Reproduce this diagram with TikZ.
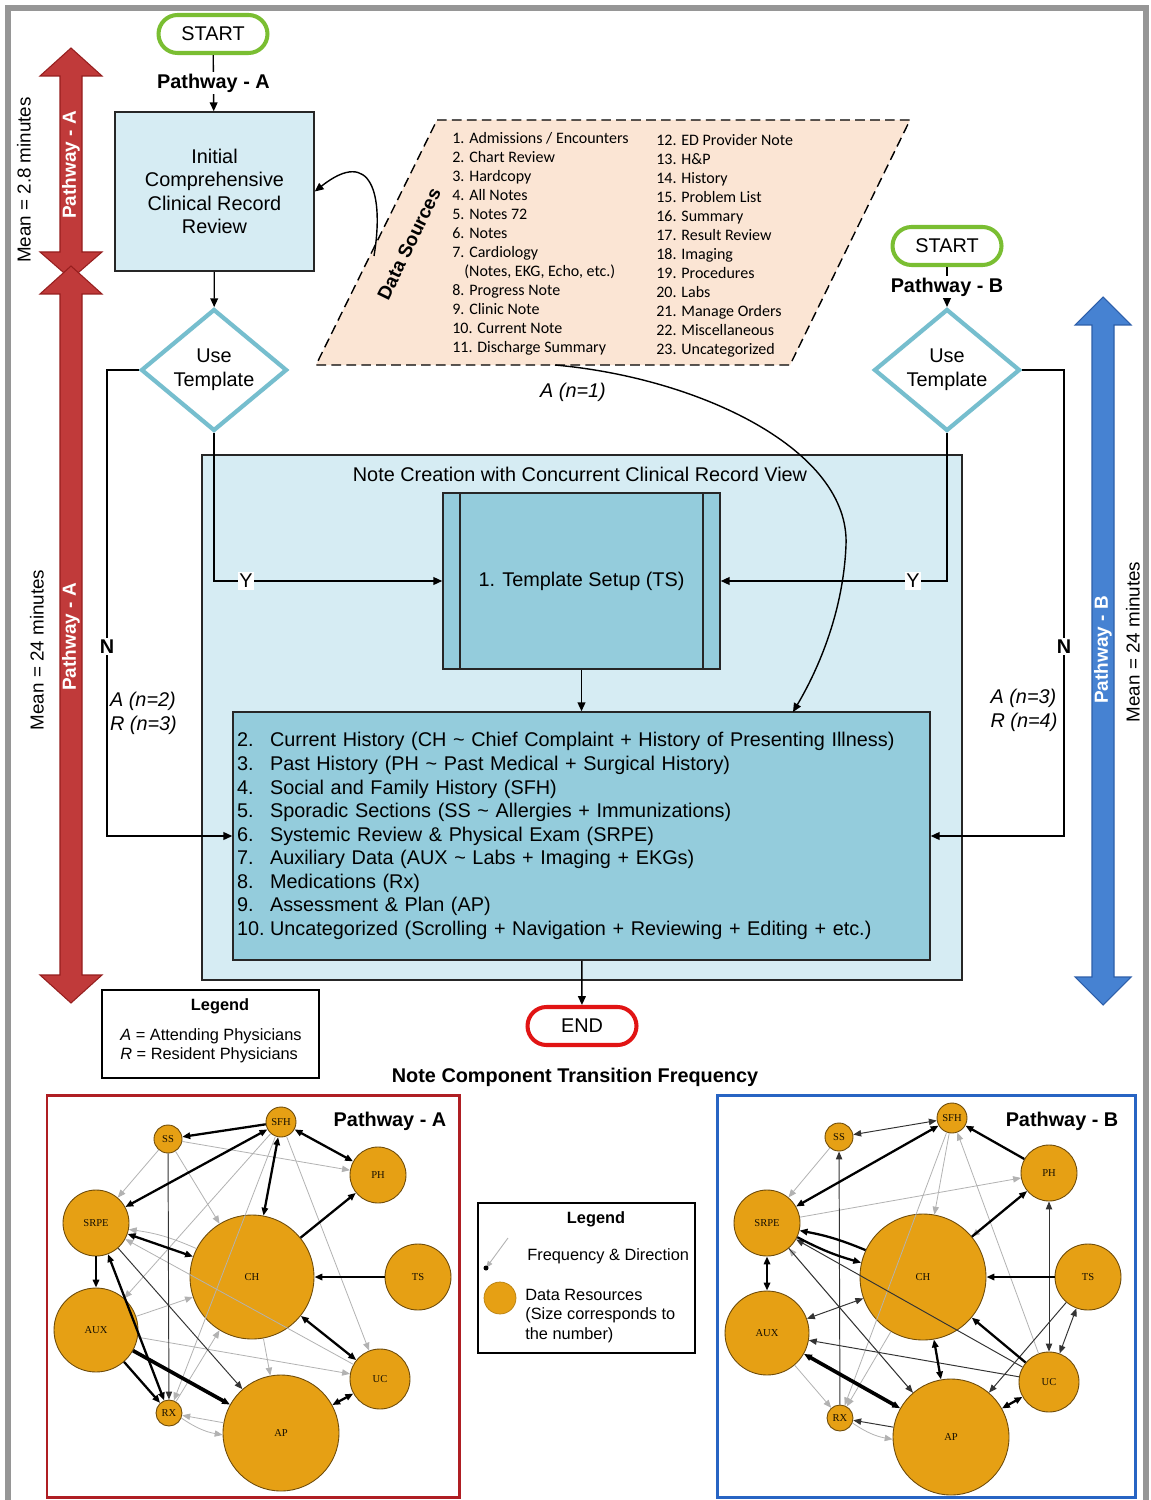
\documentclass[tikz,border=0pt]{standalone}
\usepackage{fontspec}
\setmainfont{Liberation Sans}
\newfontfamily\calfont{Carlito}
\newfontfamily\serfont{Liberation Serif}
\usetikzlibrary{shapes.geometric,arrows.meta,calc}
\definecolor{frameG}{RGB}{150,150,150}
\definecolor{lightB}{RGB}{214,236,243}
\definecolor{midB}{RGB}{148,204,220}
\definecolor{diaB}{RGB}{118,190,206}
\definecolor{peach}{RGB}{251,229,212}
\definecolor{startG}{RGB}{122,190,50}
\definecolor{endR}{RGB}{225,20,20}
\definecolor{arrR}{RGB}{192,58,58}
\definecolor{arrRd}{RGB}{150,30,30}
\definecolor{arrB}{RGB}{70,130,210}
\definecolor{arrBd}{RGB}{45,95,170}
\definecolor{orN}{RGB}{230,160,20}
\definecolor{orD}{RGB}{110,75,10}
\definecolor{boxA}{RGB}{175,30,35}
\definecolor{boxB}{RGB}{40,100,195}
\begin{document}
\begin{tikzpicture}[x=0.02cm,y=-0.02cm,
  fs/.style={font=\fontsize{11.3}{13.4}\selectfont},
  fsb/.style={font=\bfseries\fontsize{11.3}{13.4}\selectfont},
  term/.style={draw=#1, line width=2.3pt, rounded corners=0.38cm, minimum width=2.18cm, minimum height=0.76cm, fill=white, inner sep=0, fs},
  proc/.style={draw=black!85, line width=0.9pt, inner sep=0},
  deci/.style={diamond, draw=diaB, line width=2.4pt, fill=white, minimum width=2.92cm, minimum height=2.14cm, inner sep=0, align=center, fs},
  conn/.style={draw=black, line width=0.8pt, -{Triangle[length=5pt,width=4.4pt]}},
  lab/.style={fill=white, inner sep=1pt, fs},
  bigarr/.style={line width=0.6pt, line join=miter},
  rottxt/.style={rotate=90, font=\fontsize{10.7}{12}\selectfont},
  arrtxt/.style={rotate=90, text=white, font=\bfseries\fontsize{10.8}{12}\selectfont},
  dsl/.style={anchor=north west, align=left, inner sep=0, font=\calfont\fontsize{9.1}{10.8}\selectfont},
  gnode/.style={circle, draw=orD, line width=0.5pt, fill=orN, inner sep=0, text=black!80!orD, font=\serfont\fontsize{6}{6}\selectfont},
  gtip/.style={-{Triangle[length=4.5pt,width=3.6pt]}},
  gbi/.style={{Triangle[length=4.5pt,width=3.6pt]}-{Triangle[length=4.5pt,width=3.6pt]}},
  ek/.style={line width=1.3pt, draw=black},
  ekk/.style={line width=2.1pt, draw=black},
  em/.style={line width=0.55pt, draw=black!80},
  eg/.style={line width=0.45pt, draw=black!30},
  legtxt/.style={font=\fontsize{9.3}{11}\selectfont, inner sep=0}
]
\useasboundingbox (0,0) rectangle (1150,1500);
\fill[white] (0,0) rectangle (1150,1500);
\draw[frameG, line width=0.12cm] (8,1510) -- (8,8) -- (1146,8) -- (1146,1510);

% ---------- big pathway arrows ----------
\filldraw[bigarr, fill=arrR, draw=arrRd] (71,48) -- (102,76) -- (82,76) -- (82,252) -- (102,252) -- (71,279) -- (40,252) -- (60,252) -- (60,76) -- (40,76) -- cycle;
\filldraw[bigarr, fill=arrR, draw=arrRd] (71,266) -- (102,294) -- (82,294) -- (82,975) -- (102,975) -- (71,1003) -- (40,975) -- (60,975) -- (60,294) -- (40,294) -- cycle;
\filldraw[bigarr, fill=arrB, draw=arrBd] (1103,297) -- (1131,325) -- (1114,325) -- (1114,977) -- (1131,977) -- (1103,1005) -- (1075,977) -- (1092,977) -- (1092,325) -- (1075,325) -- cycle;
\node[arrtxt] (pa1) at (71,165) {Pathway - A};
\node[arrtxt] (pa2) at (71,637) {Pathway - A};
\node[arrtxt] (pb1) at (1103,650) {Pathway - B};
\node[rottxt] (m1) at (24,180) {Mean = 2.8 minutes};
\node[rottxt] (m2) at (37,650) {Mean = 24 minutes};
\node[rottxt] (m3) at (1133,642) {Mean = 24 minutes};

% ---------- data sources ----------
\draw[fill=peach, line width=0.8pt, dash pattern=on 5.5pt off 3pt] (437,120) -- (910,120) -- (790,365) -- (316,365) -- cycle;
\node[rotate=64, inner sep=0, font=\bfseries\fontsize{10.8}{12}\selectfont] (dst) at (409,244) {Data Sources};
\node[dsl] (dsa) at (452,132) {1. Admissions / Encounters\\2. Chart Review\\3. Hardcopy\\4. All Notes\\5. Notes 72\\6. Notes\\7. Cardiology\\\hspace*{0.75em}(Notes, EKG, Echo, etc.)\\8. Progress Note\\9. Clinic Note\\10. Current Note\\11. Discharge Summary};
\node[dsl] (dsb) at (656,134) {12. ED Provider Note\\13. H\&P\\14. History\\15. Problem List\\16. Summary\\17. Result Review\\18. Imaging\\19. Procedures\\20. Labs\\21. Manage Orders\\22. Miscellaneous\\23. Uncategorized};
\coordinate (dsL) at (374,256);
\coordinate (dsB) at (555,365);
\coordinate (lin) at (793,712);

% ---------- pathway A top ----------
\node[term=startG] (startA) at (213,34) {START};
\node[proc, fill=lightB, minimum width=3.98cm, minimum height=3.18cm, align=center, fs] (review) at (214.5,191.5) {Initial\\Comprehensive\\Clinical Record\\Review};
\node[deci] (dA) at (214,370) {Use\\Template};
\coordinate (nA) at (107,370);

% ---------- pathway B top ----------
\node[term=startG] (startB) at (947,246) {START};
\node[deci] (dB) at (947,370) {Use\\Template};
\coordinate (nB) at (1064,370);

% ---------- container ----------
\node[proc, fill=lightB, minimum width=15.2cm, minimum height=10.5cm] (cont) at (582,717.5) {};
\node[fs] (conttitle) at (580,474) {Note Creation with Concurrent Clinical Record View};
\node[proc, fill=midB, minimum width=5.54cm, minimum height=3.52cm, fs] (ts) at (581.5,581) {1. Template Setup (TS)};
\draw[black!85, line width=0.9pt] ([xshift=0.36cm]ts.north west) -- ([xshift=0.36cm]ts.south west);
\draw[black!85, line width=0.9pt] ([xshift=-0.36cm]ts.north east) -- ([xshift=-0.36cm]ts.south east);
\node[proc, fill=midB, text width=13.78cm, inner xsep=0.08cm, minimum height=4.96cm, align=left, fs] (list) at (581.5,836) {%
\makebox[0.66cm][l]{2.}Current History (CH \textasciitilde{} Chief Complaint + History of Presenting Illness)\\
\makebox[0.66cm][l]{3.}Past History (PH \textasciitilde{} Past Medical + Surgical History)\\
\makebox[0.66cm][l]{4.}Social and Family History (SFH)\\
\makebox[0.66cm][l]{5.}Sporadic Sections (SS \textasciitilde{} Allergies + Immunizations)\\
\makebox[0.66cm][l]{6.}Systemic Review \& Physical Exam (SRPE)\\
\makebox[0.66cm][l]{7.}Auxiliary Data (AUX \textasciitilde{} Labs + Imaging + EKGs)\\
\makebox[0.66cm][l]{8.}Medications (Rx)\\
\makebox[0.66cm][l]{9.}Assessment \& Plan (AP)\\
\makebox[0.66cm][l]{10.}Uncategorized (Scrolling + Navigation + Reviewing + Editing + etc.)};
\node[term=endR] (endn) at (582,1026) {END};

% ---------- connectors ----------
\draw[conn] (startA) -- (review) node[midway, fill=white, inner sep=1pt, fsb] (plA) {Pathway - A};
\draw[conn] (review) -- (dA);
\draw[conn] (startB) -- (dB) node[midway, fill=white, inner sep=1pt, fsb] (plB) {Pathway - B};
\draw[conn] (dA.south) |- (ts.west) node[pos=0.57, lab] (yA) {Y};
\draw[conn] (dB.south) |- (ts.east) node[pos=0.575, lab] (yB) {Y};
\draw[conn] (dA.west) -- (nA) |- (list.west) node[pos=0.297, lab, font=\bfseries\fontsize{11.3}{13.4}\selectfont] (nlA) {N};
\draw[conn] (dB.east) -- (nB) |- (list.east) node[pos=0.297, lab, font=\bfseries\fontsize{11.3}{13.4}\selectfont] (nlB) {N};
\draw[conn] (ts) -- (list);
\draw[conn] (list) -- (endn);
\draw[conn] (dsL) .. controls (384,196) and (372,146) .. (review.east);
\draw[conn] (dsB) .. controls (700,378) and (850,450) .. (846,545) .. controls (843,620) and (812,680) .. (lin);
\node[font=\itshape\fontsize{11.3}{13.4}\selectfont] (an1) at (573,392) {A (n=1)};
\node[align=left, inner sep=0, font=\itshape\fontsize{11.3}{13.4}\selectfont] (anA) at (143.5,713.5) {A (n=2)\\R (n=3)};
\node[align=left, inner sep=0, font=\itshape\fontsize{11.3}{13.4}\selectfont] (anB) at (1024,710.5) {A (n=3)\\R (n=4)};

% ---------- legends ----------
\node[draw, line width=0.8pt, minimum width=4.34cm, minimum height=1.76cm] (leg1) at (210.5,1034) {};
\node[font=\bfseries\fontsize{9.3}{11}\selectfont] (leg1t) at (220,1006) {Legend};
\node[legtxt, align=left] (leg1a) at (211,1045.5) {\textit{A} = Attending Physicians\\\textit{R} = Resident Physicians};
\node[font=\bfseries\fontsize{11.3}{13.4}\selectfont] (nctf) at (575,1077) {Note Component Transition Frequency};

\node[draw, line width=0.8pt, minimum width=4.34cm, minimum height=3cm] (leg2) at (586.5,1278) {};
\node[font=\bfseries\fontsize{9.3}{11}\selectfont] (leg2t) at (596,1219) {Legend};
\coordinate (lgA) at (508,1238);
\coordinate (lgB) at (486,1268);
\draw[eg, -{Triangle[length=4pt,width=3pt]}, line width=0.5pt] (lgA) -- (lgB);
\fill[black] (lgB) circle (2.5);
\node[legtxt, anchor=west] (leg2a) at (527,1256) {Frequency \& Direction};
\node[circle, fill=orN, draw=orN!80!black, line width=0.4pt, minimum size=0.64cm, inner sep=0] (leg2c) at (500,1298) {};
\node[legtxt, anchor=north west, align=left] (leg2b) at (525,1289) {Data Resources\\(Size corresponds to\\the number)};

% ---------- graph A ----------
\draw[boxA, line width=1.7pt] (47,1095) rectangle (459,1497);
\node[fsb] (gAt) at (390,1121) {Pathway - A};
\node[gnode, minimum size=0.6cm] (aSFH) at (281,1122) {SFH};
\node[gnode, minimum size=0.56cm] (aSS) at (168,1139) {SS};
\node[gnode, minimum size=1.12cm] (aPH) at (378,1175) {PH};
\node[gnode, minimum size=1.32cm] (aSRPE) at (96,1223) {SRPE};
\node[gnode, minimum size=2.48cm] (aCH) at (252,1277) {CH};
\node[gnode, minimum size=1.32cm] (aTS) at (418,1277) {TS};
\node[gnode, minimum size=1.68cm] (aAUX) at (96,1330) {AUX};
\node[gnode, minimum size=1.2cm] (aUC) at (380,1379) {UC};
\node[gnode, minimum size=0.52cm] (aRX) at (169,1413) {RX};
\node[gnode, minimum size=2.32cm] (aAP) at (281,1433) {AP};
\draw[eg,gtip] (aSS) -- (aPH);
\draw[eg,gtip] (aSS) -- (aSRPE);
\draw[eg,gtip] (aSS) -- (aCH);
\draw[eg,gtip] (aSFH) -- (aAUX);
\draw[eg,gtip] (aSFH) -- (aUC);
\draw[eg,gtip] (aSFH) -- (aRX);
\draw[eg,gtip] (aCH) -- (aAP);
\draw[eg,gtip] (aAUX) -- (aCH);
\draw[eg,gtip] (aRX) -- (aCH);
\draw[eg,gtip] (aAP) -- (aRX);
\draw[eg,gtip] (aRX) to[bend right=12] (aAP);
\draw[eg,gtip] (aAUX) -- (aUC);
\draw[eg,gtip] (aUC) -- (aSRPE);
\draw[eg,gtip] (aCH) to[bend right=8] (aSRPE);
\draw[em,gtip] (aSS) -- (aRX);
\draw[em,gtip] (aSRPE) -- (aAP);
\draw[ek,gtip] (aSFH) -- (aSS);
\draw[ek,gbi] (aSFH) -- (aPH);
\draw[ek,gbi] (aSFH) -- (aSRPE);
\draw[ek,gbi] (aSFH) -- (aCH);
\draw[ek,gtip] (aCH) -- (aPH);
\draw[ek,gtip] (aTS) -- (aCH);
\draw[ek,gbi] (aSRPE) -- (aCH);
\draw[ek,gtip] (aSRPE) -- (aAUX);
\draw[ek,gbi] (aSRPE) -- (aRX);
\draw[ek,gtip] (aAUX) -- (aRX);
\draw[ekk,gtip] (aAUX) -- (aAP);
\draw[ek,gbi] (aCH) -- (aUC);
\draw[ek,gbi] (aUC) -- (aAP);

% ---------- graph B ----------
\draw[boxB, line width=1.7pt] (717,1095) rectangle (1135,1497);
\node[fsb] (gBt) at (1062,1121) {Pathway - B};
\node[gnode, minimum size=0.6cm] (bSFH) at (952,1118) {SFH};
\node[gnode, minimum size=0.56cm] (bSS) at (839,1137) {SS};
\node[gnode, minimum size=1.12cm] (bPH) at (1049,1173) {PH};
\node[gnode, minimum size=1.32cm] (bSRPE) at (767,1223) {SRPE};
\node[gnode, minimum size=2.52cm] (bCH) at (923,1277) {CH};
\node[gnode, minimum size=1.32cm] (bTS) at (1088,1277) {TS};
\node[gnode, minimum size=1.68cm] (bAUX) at (767,1333) {AUX};
\node[gnode, minimum size=1.2cm] (bUC) at (1049,1382) {UC};
\node[gnode, minimum size=0.52cm] (bRX) at (840,1418) {RX};
\node[gnode, minimum size=2.32cm] (bAP) at (951,1437) {AP};
\draw[eg,gtip] (bSS) -- (bSRPE);
\draw[eg,gtip] (bSRPE) -- (bPH);
\draw[eg,gtip] (bSFH) -- (bCH);
\draw[eg,gtip] (bUC) -- (bSFH);
\draw[eg,gtip] (bRX) to[bend right=12] (bAP);
\draw[eg,gtip] (bAUX) -- (bRX);
\draw[eg,gtip] (bCH) -- (bRX);
\draw[eg,gtip] (bSFH) -- (bRX);
\draw[eg,gtip] (bPH) -- (bCH);
\draw[eg,gtip] (bAP) -- (bSRPE);
\draw[em,gbi] (bSS) -- (bSFH);
\draw[em,gtip] (bRX) -- (bSS);
\draw[em,gtip] (bUC) -- (bAUX);
\draw[em,gbi] (bCH) -- (bAUX);
\draw[em,gbi] (bUC) -- (bPH);
\draw[em,gbi] (bTS) -- (bUC);
\draw[em,gtip] (bUC) -- (bSRPE);
\draw[em,gtip] (bAP) -- (bRX);
\draw[em,gtip] (bSRPE) -- (bAP);
\draw[em,gtip] (bTS) -- (bAP);
\draw[ek,gtip] (bPH) -- (bSFH);
\draw[ek,gbi] (bSFH) -- (bSRPE);
\draw[ek,gtip] (bCH) -- (bPH);
\draw[ek,gtip] (bCH) to[bend right=6] (bSRPE);
\draw[ek,gtip] (bSRPE) to[bend right=6] (bCH);
\draw[ek,gbi] (bAUX) -- (bSRPE);
\draw[ek,gtip] (bTS) -- (bCH);
\draw[ekk,gbi] (bAUX) -- (bAP);
\draw[ek,gbi] (bCH) -- (bAP);
\draw[ek,gtip] (bUC) -- (bCH);
\draw[ek,gbi] (bUC) -- (bAP);
\end{tikzpicture}
\end{document}
